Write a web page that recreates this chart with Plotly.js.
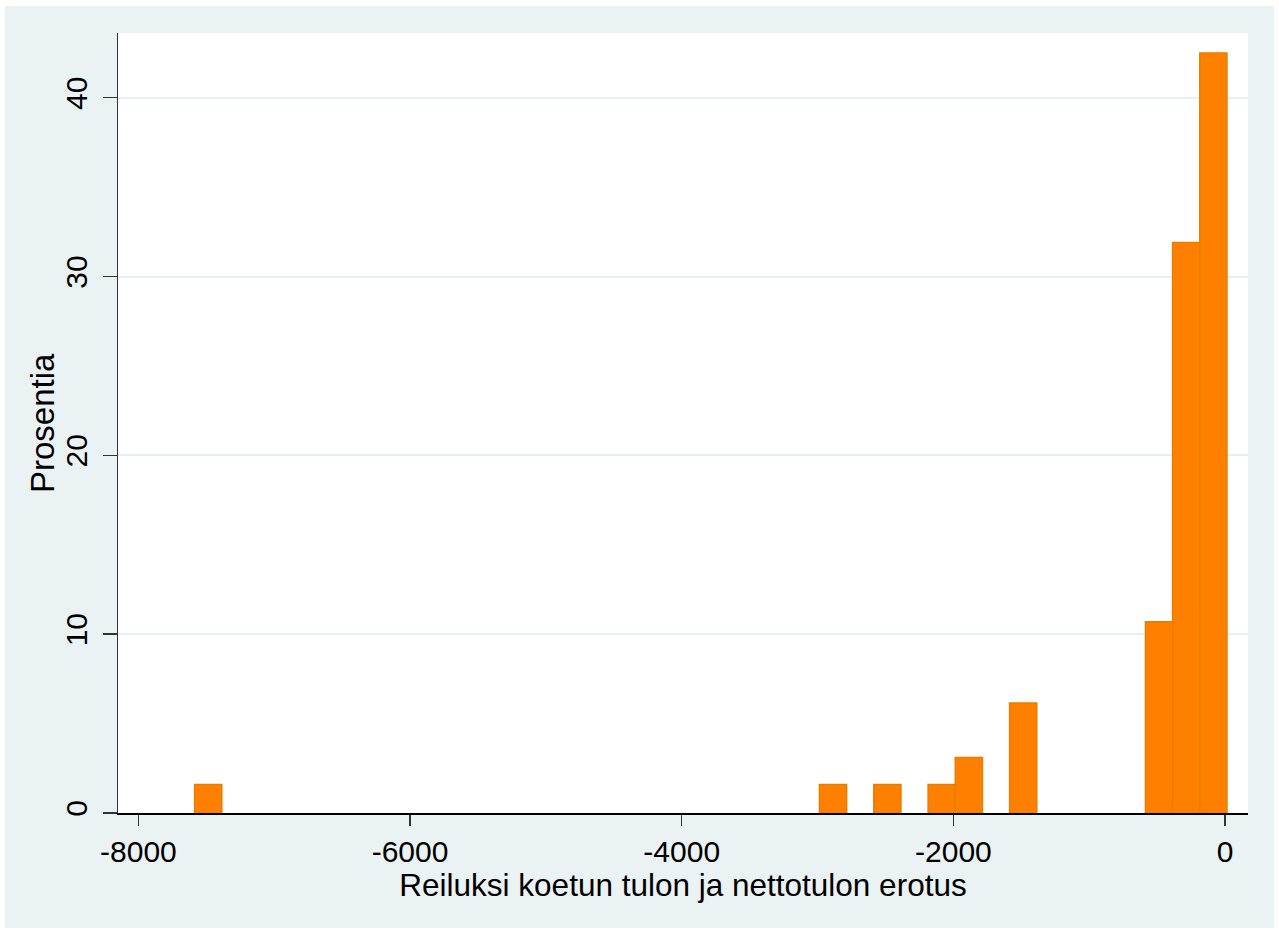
<!DOCTYPE html>
<html>
<head>
<meta charset="utf-8">
<script src="https://cdn.plot.ly/plotly-3.0.1.min.js"></script>
<style>
  html, body { margin: 0; padding: 0; background: #ffffff; width: 1279px; height: 932px; overflow: hidden; }
  #chart { position: absolute; left: 5px; top: 6px; width: 1269px; height: 922px; }
</style>
</head>
<body>
<div id="chart"></div>
<script>
// Histogram bins (lower edge of each non-empty bin) and their percentages
var binWidth = 200;
var binLower = [-7586, -2986, -2586, -2186, -1986, -1586, -586, -386, -186];
var percent  = [1.59, 1.59, 1.59, 1.59, 3.10, 6.15, 10.7, 31.9, 42.5];

var xTickVals = [-8000, -6000, -4000, -2000, 0];
var xTickText = ['-8000', '-6000', '-4000', '-2000', '0'];
var yTickVals = [0, 10, 20, 30, 40];
var yTickText = ['0', '10', '20', '30', '40'];

var xTitle = 'Reiluksi koetun tulon ja nettotulon erotus';
var yTitle = 'Prosentia';

var centers = binLower.map(function (v) { return v + binWidth / 2; });

var trace = {
  type: 'bar',
  x: centers,
  y: percent,
  width: binLower.map(function () { return binWidth; }),
  marker: { color: '#FF8000', line: { color: '#E67E00', width: 1.5 } },
  hoverinfo: 'x+y'
};

var family = 'Liberation Sans, Arial, sans-serif';
var tickFont = { family: family, size: 30, color: '#000000' };
var titleFont = { family: family, size: 31.5, color: '#000000' };

var layout = {
  width: 1269,
  height: 922,
  paper_bgcolor: '#EAF2F3',
  plot_bgcolor: '#FFFFFF',
  margin: { l: 113, r: 26, t: 27, b: 115 },
  showlegend: false,
  bargap: 0,
  font: tickFont,
  xaxis: {
    range: [-8150, 169],
    tickmode: 'array',
    tickvals: xTickVals,
    ticktext: xTickText,
    ticks: 'outside',
    ticklen: 11,
    tickwidth: 1.5,
    tickcolor: '#333333',
    showgrid: false,
    zeroline: false,
    showline: true,
    linecolor: '#000000',
    linewidth: 1.5,
    tickfont: tickFont,
    title: { text: xTitle, font: titleFont, standoff: 2 }
  },
  yaxis: {
    range: [0, 43.62],
    tickmode: 'array',
    tickvals: yTickVals,
    ticktext: yTickText,
    tickangle: -90,
    ticks: 'outside',
    ticklen: 14,
    tickwidth: 1.5,
    tickcolor: '#333333',
    ticklabelstandoff: 4,
    showgrid: true,
    gridcolor: '#E6EFF1',
    gridwidth: 2,
    zeroline: false,
    showline: true,
    linecolor: '#333333',
    linewidth: 1.5,
    tickfont: tickFont
  },
  annotations: [{
    text: yTitle,
    xref: 'paper', yref: 'paper',
    x: 0, y: 0.5,
    xshift: -76,
    xanchor: 'center', yanchor: 'middle',
    textangle: -90,
    showarrow: false,
    font: { family: family, size: 33, color: '#000000' }
  }]
};

Plotly.newPlot('chart', [trace], layout, { displayModeBar: false, staticPlot: true });
</script>
</body>
</html>
